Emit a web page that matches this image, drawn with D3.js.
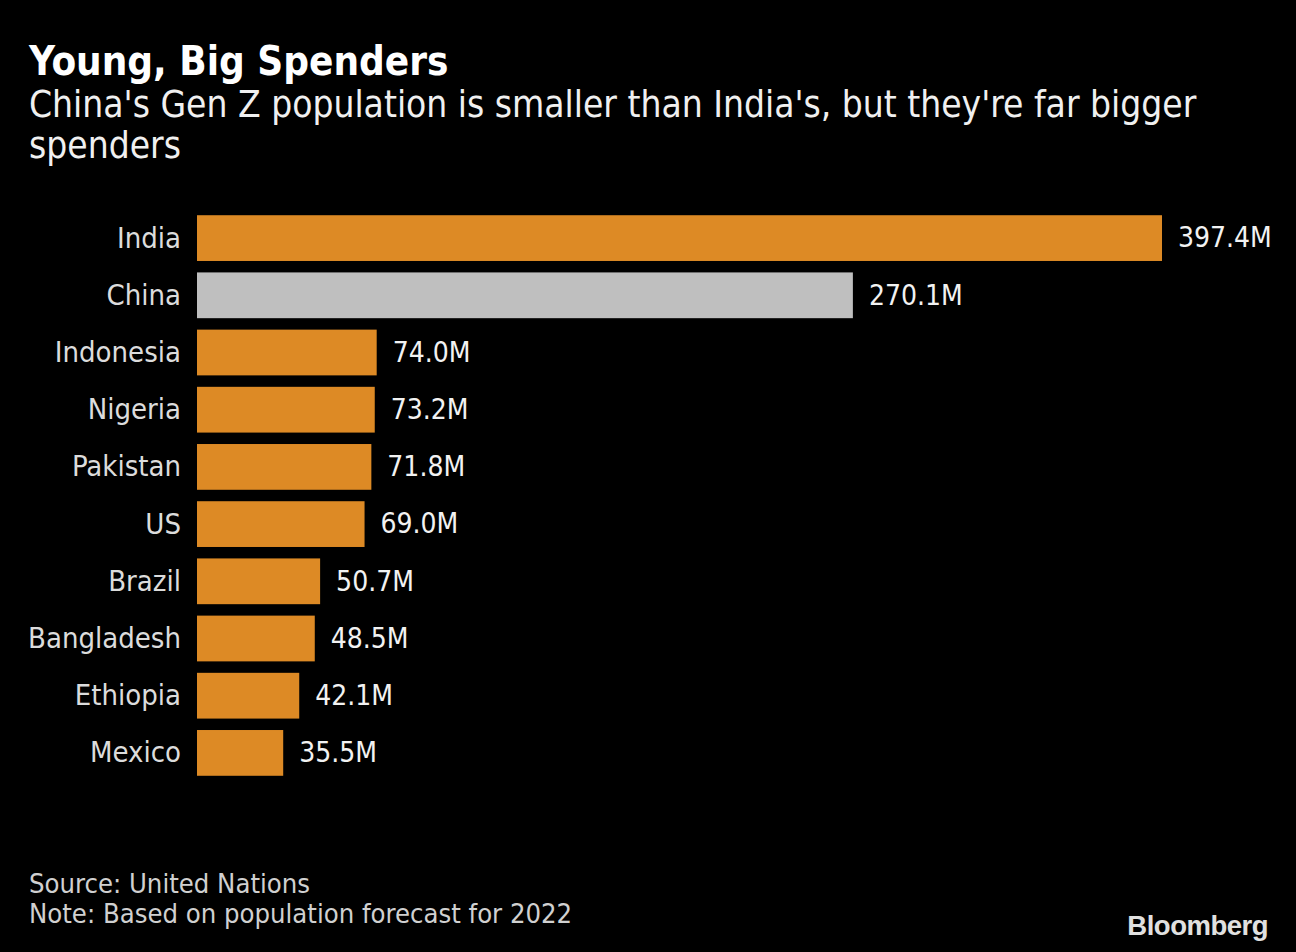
<!DOCTYPE html>
<html><head><meta charset="utf-8">
<script src="https://cdn.jsdelivr.net/npm/d3@7"></script>
<style>html,body{margin:0;padding:0;background:#000;}svg{display:block;}</style>
</head><body>
<script>
const categories = ["India","China","Indonesia","Nigeria","Pakistan","US","Brazil","Bangladesh","Ethiopia","Mexico"];
const values = [397.4,270.1,74.0,73.2,71.8,69.0,50.7,48.5,42.1,35.5];
const highlight = ["China"];

const W = 1296, H = 952;
const F = "'DejaVu Sans Condensed','DejaVu Sans',sans-serif";
const svg = d3.select("body").append("svg").attr("width", W).attr("height", H);
svg.append("rect").attr("width", W).attr("height", H).attr("fill", "#000");

svg.append("text").attr("x", 29).attr("y", 75).text("Young, Big Spenders")
  .attr("font-family", F).attr("font-weight", "bold").attr("font-size", 40).attr("fill", "#fff");
svg.append("text").attr("x", 29).attr("y", 117).text("China's Gen Z population is smaller than India's, but they're far bigger")
  .attr("font-family", F).attr("font-size", 36.8).attr("fill", "#f0f0f0");
svg.append("text").attr("x", 29).attr("y", 158).text("spenders")
  .attr("font-family", F).attr("font-size", 36.8).attr("fill", "#f0f0f0");

const x = d3.scaleLinear().domain([0, 397.4]).range([197, 1162]);
const y = d3.scaleBand().domain(categories).range([209.5, 781.5]).paddingInner(0.2).paddingOuter(0.1);

const g = svg.append("g");
categories.forEach((c, i) => {
  g.append("rect").attr("x", x(0)).attr("y", y(c)).attr("width", x(values[i]) - x(0)).attr("height", y.bandwidth())
    .attr("fill", highlight.includes(c) ? "#bfbfbf" : "#dd8a25");
  g.append("text").attr("x", 181).attr("y", y(c) + y.bandwidth()/2).attr("dy", "0.33em")
    .attr("text-anchor", "end").text(c)
    .attr("font-family", F).attr("font-size", 29).attr("fill", "#dcdcdc");
  g.append("text").attr("x", x(values[i]) + 16).attr("y", y(c) + y.bandwidth()/2).attr("dy", "0.33em")
    .text(values[i].toFixed(1) + "M")
    .attr("font-family", F).attr("font-size", 28).attr("fill", "#f2f2f2");
});

svg.append("text").attr("x", 29).attr("y", 893).text("Source: United Nations")
  .attr("font-family", F).attr("font-size", 27.2).attr("fill", "#d0d0d0");
svg.append("text").attr("x", 29).attr("y", 923).text("Note: Based on population forecast for 2022")
  .attr("font-family", F).attr("font-size", 27.2).attr("fill", "#d0d0d0");
svg.append("text").attr("x", 1268).attr("y", 935).attr("text-anchor", "end").text("Bloomberg")
  .attr("font-family", "'Liberation Sans',Arial,sans-serif").attr("font-weight", "bold").attr("font-size", 27.5)
  .attr("letter-spacing", -0.5).attr("fill", "#e0e0e0");
</script>
</body></html>
